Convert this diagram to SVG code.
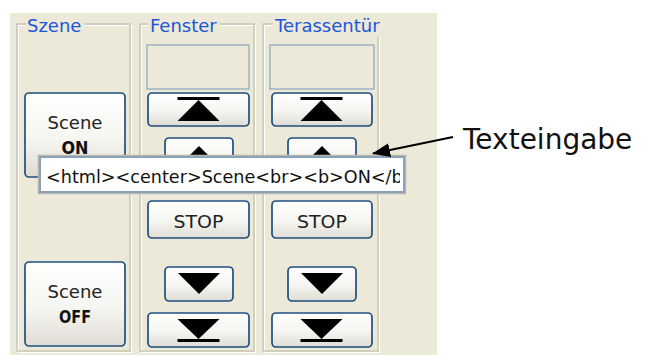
<svg xmlns="http://www.w3.org/2000/svg" width="645" height="356" viewBox="0 0 645 356">
  <defs>
    <linearGradient id="btnFill" x1="0" y1="0" x2="0" y2="1">
      <stop offset="0" stop-color="#ffffff"/>
      <stop offset="0.55" stop-color="#f5f5f1"/>
      <stop offset="1" stop-color="#dedcd3"/>
    </linearGradient>
    <marker id="arrowHead" viewBox="0 0 18 14" refX="17" refY="7" markerWidth="18" markerHeight="14" markerUnits="userSpaceOnUse" orient="auto">
      <path d="M0,0 L18,7 L0,14 Z" fill="#000"/>
    </marker>
    <clipPath id="fieldClip">
      <rect x="42" y="159" width="358" height="31"/>
    </clipPath>
  </defs>
  <style>
    .panel { fill: #ece9d8; }
    .frame { fill: none; stroke: #c8c6b5; stroke-width: 1.5; }
    .frameHi { fill: none; stroke: #ffffff; stroke-width: 1; }
    .title { font-family: "DejaVu Sans", sans-serif; font-size: 18px; fill: #1c56d8; }
    .btn rect { fill: url(#btnFill); stroke: #1f4f80; stroke-width: 1.7; }
    .btn text { font-family: "DejaVu Sans", sans-serif; font-size: 18px; fill: #222; text-anchor: middle; }
    .btn text.b { font-weight: bold; font-size: 18px; fill: #111; }
    .btn path.icon { fill: #000; stroke: none; }
    .display { fill: #ece9d8; stroke: #9fb3c6; stroke-width: 1.5; }
    .field rect.box { fill: #ffffff; stroke: #8aa1b8; stroke-width: 2; }
    .field rect.shade { fill: none; stroke: #b9b8ad; stroke-width: 1.5; }
    .field text { font-family: "DejaVu Sans", sans-serif; font-size: 17.6px; fill: #111; }
    .callout { font-family: "DejaVu Sans", sans-serif; font-size: 28px; fill: #111; }
    .conn { stroke: #000; stroke-width: 2; fill: none; }
  </style>

  <!-- window background -->
  <rect class="panel" x="10" y="13" width="427" height="342"/>

  <!-- group box: Szene -->
  <g id="group-szene">
    <path class="frameHi" d="M26,25.5 H18.5 V352.5 H131.5 V25.5 H84"/>
    <path class="frame" d="M26,24 H17 V351 H130 V24 H84"/>
    <text class="title" x="27" y="32">Szene</text>
  </g>

  <!-- group box: Fenster -->
  <g id="group-fenster">
    <path class="frameHi" d="M148,25.5 H141.5 V352.5 H255.5 V25.5 H219"/>
    <path class="frame" d="M148,24 H140 V351 H254 V24 H219"/>
    <text class="title" x="150" y="32">Fenster</text>
  </g>

  <!-- group box: Terassentür -->
  <g id="group-terassentuer">
    <path class="frameHi" d="M273,25.5 H264.5 V352.5 H379.5 V38"/>
    <path class="frame" d="M273,24 H263 V351 H378 V37"/>
    <text class="title" x="275" y="32">Terassentür</text>
  </g>

  <!-- Szene buttons -->
  <g id="btn-scene-on" class="btn">
    <rect x="25" y="93" width="100" height="84" rx="4"/>
    <text x="75" y="129">Scene</text>
    <text class="b" x="75" y="154" textLength="27" lengthAdjust="spacingAndGlyphs">ON</text>
  </g>
  <g id="btn-scene-off" class="btn">
    <rect x="25" y="262" width="100" height="84" rx="4"/>
    <text x="75" y="298">Scene</text>
    <text class="b" x="75" y="323" textLength="32" lengthAdjust="spacingAndGlyphs">OFF</text>
  </g>

  <!-- Fenster controls -->
  <g id="display-fenster">
    <rect class="display" x="147" y="45" width="102" height="44"/>
  </g>
  <g id="btn-fenster-top" class="btn">
    <rect x="148" y="93" width="101" height="33" rx="4"/>
    <path class="icon" d="M177.5,97 H219.5 V100 H177.5 Z M198.5,100 L219.5,121 L177.5,121 Z"/>
  </g>
  <g id="btn-fenster-up" class="btn">
    <rect x="165" y="138" width="68" height="34" rx="4"/>
    <path class="icon" d="M199,146 L220,167 L178,167 Z"/>
  </g>
  <g id="btn-fenster-stop" class="btn">
    <rect x="148" y="201" width="101" height="37" rx="4"/>
    <text x="198.5" y="228" textLength="50" lengthAdjust="spacingAndGlyphs">STOP</text>
  </g>
  <g id="btn-fenster-down" class="btn">
    <rect x="165" y="267" width="68" height="34" rx="4"/>
    <path class="icon" d="M178,273 L220,273 L199,294 Z"/>
  </g>
  <g id="btn-fenster-bottom" class="btn">
    <rect x="148" y="313" width="101" height="34" rx="4"/>
    <path class="icon" d="M177.5,319 L219.5,319 L198.5,339 Z M177.5,339 H219.5 V342 H177.5 Z"/>
  </g>

  <!-- Terassentür controls -->
  <g id="display-terassentuer">
    <rect class="display" x="270" y="45" width="104" height="44"/>
  </g>
  <g id="btn-terassentuer-top" class="btn">
    <rect x="272" y="93" width="100" height="33" rx="4"/>
    <path class="icon" d="M300.5,97 H342.5 V100 H300.5 Z M321.5,100 L342.5,121 L300.5,121 Z"/>
  </g>
  <g id="btn-terassentuer-up" class="btn">
    <rect x="288" y="138" width="68" height="34" rx="4"/>
    <path class="icon" d="M322,146 L343,167 L301,167 Z"/>
  </g>
  <g id="btn-terassentuer-stop" class="btn">
    <rect x="272" y="201" width="100" height="37" rx="4"/>
    <text x="322" y="228" textLength="50" lengthAdjust="spacingAndGlyphs">STOP</text>
  </g>
  <g id="btn-terassentuer-down" class="btn">
    <rect x="288" y="267" width="68" height="34" rx="4"/>
    <path class="icon" d="M301,273 L343,273 L322,294 Z"/>
  </g>
  <g id="btn-terassentuer-bottom" class="btn">
    <rect x="272" y="313" width="100" height="34" rx="4"/>
    <path class="icon" d="M300.5,319 L342.5,319 L321.5,339 Z M300.5,339 H342.5 V342 H300.5 Z"/>
  </g>

  <!-- text input overlay -->
  <g id="text-field" class="field">
    <rect class="shade" x="38.5" y="155.5" width="367" height="38"/>
    <rect class="box" x="40" y="157" width="364" height="35"/>
    <text x="46" y="183" clip-path="url(#fieldClip)">&lt;html&gt;&lt;center&gt;Scene&lt;br&gt;&lt;b&gt;ON&lt;/b</text>
  </g>

  <!-- callout label -->
  <g id="label-texteingabe">
    <text class="callout" x="463" y="149">Texteingabe</text>
  </g>

  <!-- connectors -->
  <g id="connectors">
    <line class="conn" x1="453" y1="137" x2="373" y2="153.5" marker-end="url(#arrowHead)"/>
  </g>
</svg>
